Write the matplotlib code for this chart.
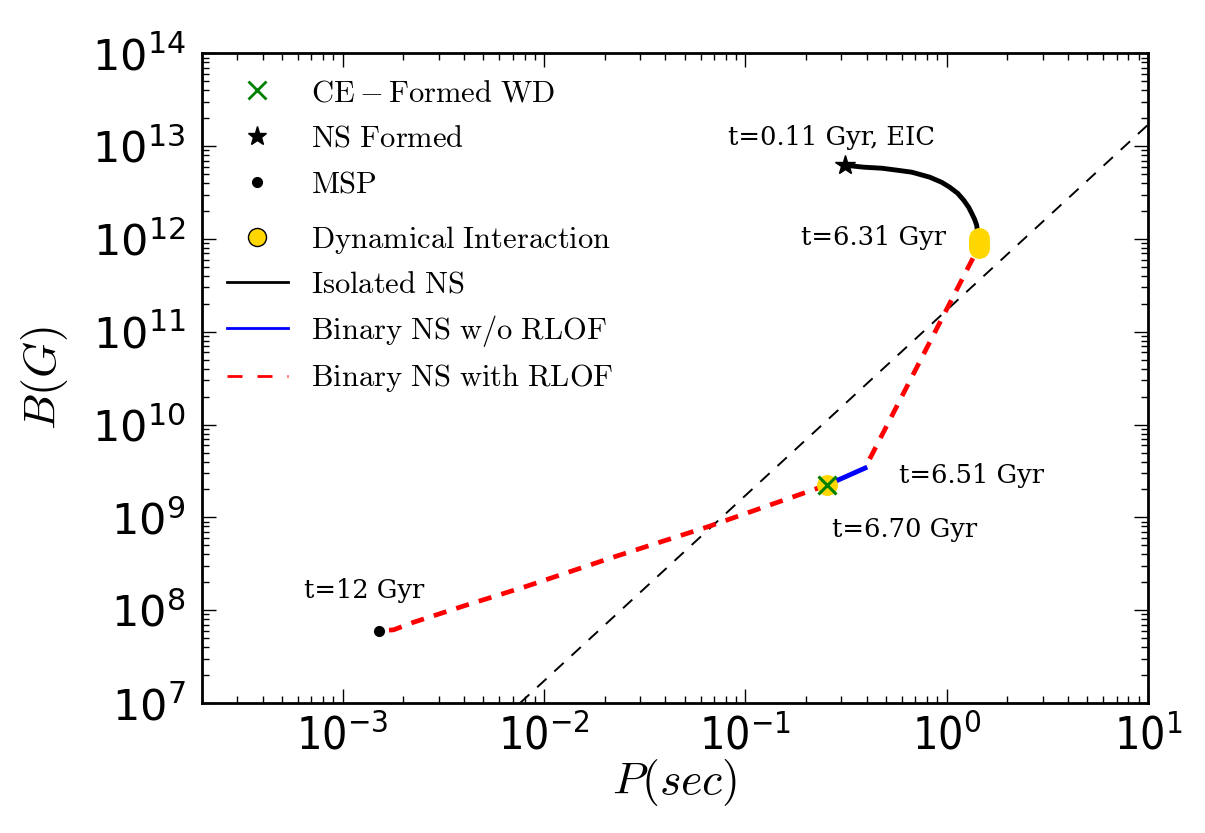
import matplotlib
matplotlib.use("Agg")
import matplotlib.pyplot as plt
from matplotlib.lines import Line2D
from matplotlib.ticker import LogLocator

# isolated NS track (black), P in sec, B in G
iso_P = [0.313, 0.388, 0.477, 0.565, 0.671, 0.824, 0.944, 1.035, 1.133,
         1.214, 1.285, 1.33, 1.376, 1.409, 1.423]
iso_B = [6.22e12, 5.93e12, 5.78e12, 5.51e12, 5.24e12, 4.63e12, 4.08e12, 3.61e12,
         3.11e12, 2.62e12, 2.2e12, 1.9e12, 1.63e12, 1.41e12, 1.19e12]

# dynamical interactions (yellow blobs)
dyn_P = [1.44, 1.44, 1.44, 1.44, 0.255]
dyn_B = [1.02e12, 9.3e11, 8.6e11, 7.96e11, 2.24e9]

# binary with RLOF, first phase
rlof1_P = [1.35, 0.393]
rlof1_B = [6.2e11, 3.4e9]

# binary without RLOF
bin_P = [0.393, 0.255]
bin_B = [3.4e9, 2.24e9]

# binary with RLOF, spin-up to MSP
rlof2_P = [0.255, 0.0648, 0.0215, 0.00805, 0.00388, 0.0022, 0.00179, 0.00152]
rlof2_B = [2.24e9, 7.9e8, 3.66e8, 1.79e8, 1.09e8, 7.3e7, 6.15e7, 6.0e7]

# events
star_P, star_B = [0.313], [6.2e12]
ce_P, ce_B = [0.255], [2.24e9]
msp_P, msp_B = [0.00152], [6.0e7]

# reference dashed line
ref_P = [0.0076, 10.0]
ref_B = [1.0e7, 1.7e13]

# annotations
notes = ["t=0.11 Gyr, EIC", "t=6.31 Gyr", "t=6.51 Gyr", "t=6.70 Gyr", "t=12 Gyr"]
notes_P = [0.0824, 0.189, 0.578, 0.27, 6.41e-4]
notes_B = [1.02e13, 8.57e11, 2.35e9, 6.17e8, 1.36e8]

fig = plt.figure(figsize=(12.05, 8.33), dpi=100, facecolor="white")
ax = fig.add_axes([0.1676, 0.156, 0.7851, 0.780])

ax.plot(ref_P, ref_B, color="black", lw=1.4, dashes=(6.5, 5.5))
ax.plot(iso_P, iso_B, color="black", lw=3.5, solid_capstyle="butt", solid_joinstyle="round")
ax.plot(rlof1_P, rlof1_B, color="red", lw=3.4, dashes=(2.8, 2.2))
ax.plot(bin_P, bin_B, color="blue", lw=3.5)
ax.plot(rlof2_P, rlof2_B, color="red", lw=3.4, dashes=(2.8, 2.2))
ax.plot(dyn_P, dyn_B, ls="none", marker="o", ms=14, mfc="gold", mec="gold", zorder=4)
ax.plot(ce_P, ce_B, ls="none", marker="x", ms=13, mew=2.2, color="green", zorder=5)
ax.plot(star_P, star_B, ls="none", marker="*", ms=15, color="black", zorder=5)
ax.plot(msp_P, msp_B, ls="none", marker="o", ms=7, color="black", zorder=5)

for s, p, b in zip(notes, notes_P, notes_B):
    ax.text(p, b, s, family="DejaVu Serif", fontsize=18.5, ha="left", va="baseline")

ax.set_xscale("log")
ax.set_yscale("log")
ax.set_xlim(2e-4, 10)
ax.set_ylim(1e7, 1e14)
ax.xaxis.set_major_locator(LogLocator(base=10, numticks=20))
ax.yaxis.set_major_locator(LogLocator(base=10, numticks=20))
ax.xaxis.set_minor_locator(LogLocator(base=10, subs=range(2, 10), numticks=20))
ax.yaxis.set_minor_locator(LogLocator(base=10, subs=range(2, 10), numticks=20))
ax.yaxis.set_minor_formatter(plt.NullFormatter())
ax.xaxis.set_minor_formatter(plt.NullFormatter())

for sp in ax.spines.values():
    sp.set_linewidth(2)
ax.tick_params(which="both", direction="in", top=True, right=True, width=1)
ax.tick_params(which="major", length=10)
ax.tick_params(which="minor", length=5)
ax.tick_params(axis="y", which="major", labelsize=31, pad=12)
ax.tick_params(axis="x", which="major", labelsize=32, pad=8)
for lab in ax.get_xticklabels():
    lab.set_fontstretch("condensed")

ax.set_xlabel("$P(sec)$", fontsize=33, math_fontfamily="cm")
ax.set_ylabel("$B(G)$", fontsize=33, math_fontfamily="cm")
ax.xaxis.set_label_coords(0.5, -0.083)
ax.yaxis.set_label_coords(-0.139, 0.5)

h1 = [
    Line2D([], [], ls="none", marker="x", ms=13, mew=2, color="green"),
    Line2D([], [], ls="none", marker="*", ms=14, color="black"),
    Line2D([], [], ls="none", marker="o", ms=7, color="black"),
]
l1 = [r"$\mathrm{CE-Formed\ WD}$", r"$\mathrm{NS\ Formed}$", r"$\mathrm{MSP}$"]
h2 = [
    Line2D([], [], ls="none", marker="o", ms=13, mfc="gold", mec="black", mew=1),
    Line2D([], [], color="black", lw=2),
    Line2D([], [], color="blue", lw=2),
    Line2D([], [], color="red", lw=2, dashes=(5.4, 5.4)),
]
l2 = [r"$\mathrm{Dynamical\ Interaction}$", r"$\mathrm{Isolated\ NS}$",
      r"$\mathrm{Binary\ NS\ w/o\ RLOF}$", r"$\mathrm{Binary\ NS\ with\ RLOF}$"]

kw = dict(frameon=False, fontsize=22, handlelength=2.0, handletextpad=0.77,
          borderpad=0, borderaxespad=0, numpoints=1, loc="upper left")
leg1 = ax.legend(h1, l1, bbox_to_anchor=(0.026, 0.962), labelspacing=0.55, **kw)
ax.add_artist(leg1)
leg2 = ax.legend(h2, l2, bbox_to_anchor=(0.026, 0.737), labelspacing=0.45, **kw)
for lg in (leg1, leg2):
    for t in lg.get_texts():
        t.set_math_fontfamily("cm")

fig.savefig("out.png", dpi=100, facecolor="white")
